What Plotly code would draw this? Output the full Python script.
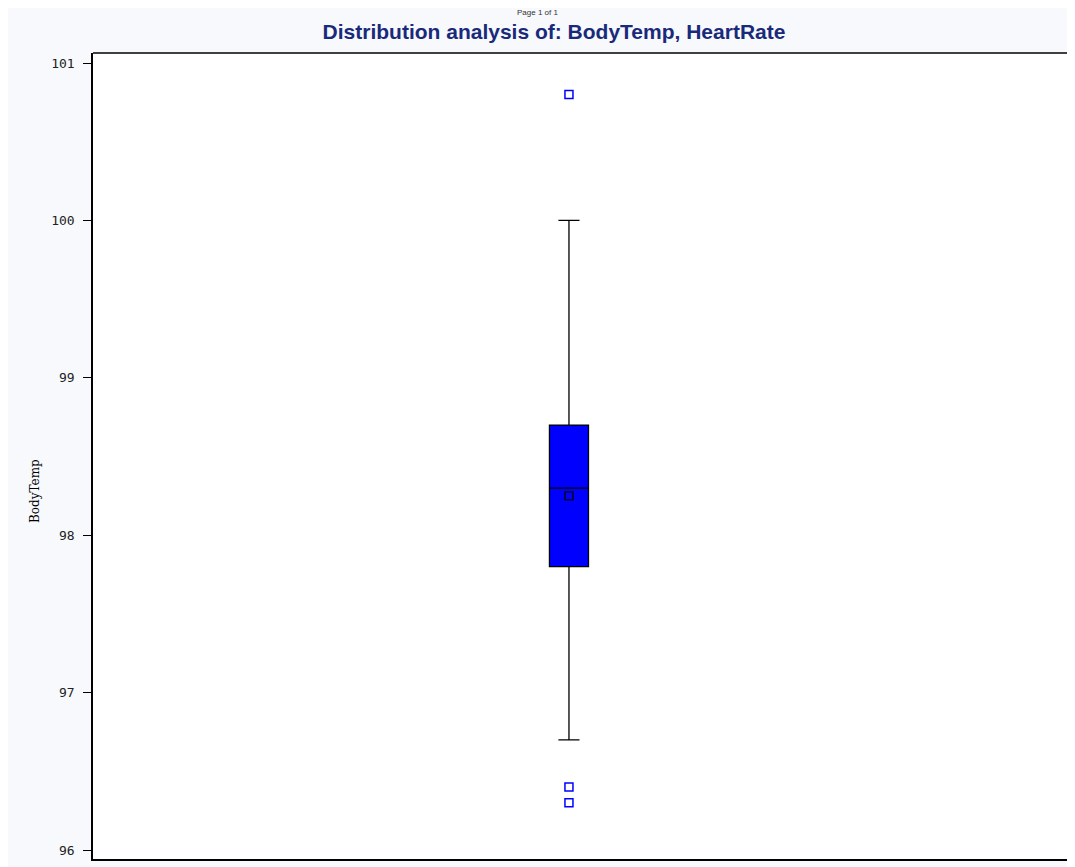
import plotly.graph_objects as go

# ---- data ----
variable = "BodyTemp"
q1 = [97.8]
median = [98.3]
q3 = [98.7]
lower_whisker = [96.7]
upper_whisker = [100.0]
mean_value = [98.25]
outliers = [100.8, 96.4, 96.3]
y_ticks = [96, 97, 98, 99, 100, 101]

fig = go.Figure()

fig.add_trace(go.Box(
    x=[0], q1=q1, median=median, q3=q3,
    lowerfence=lower_whisker, upperfence=upper_whisker,
    fillcolor="#0000FF",
    line=dict(color="black", width=1.3),
    width=0.082, whiskerwidth=0.54,
    boxpoints=False, showlegend=False, hoverinfo="y",
))

fig.add_trace(go.Scatter(
    x=[0] * len(outliers), y=outliers, mode="markers",
    marker=dict(symbol="square-open", size=8, color="#0000FF", line=dict(width=1.5)),
    showlegend=False,
))

fig.add_trace(go.Scatter(
    x=[0], y=mean_value, mode="markers",
    marker=dict(symbol="square-open", size=8, color="black", line=dict(width=1.3)),
    showlegend=False,
))

fig.update_layout(
    width=1075, height=867,
    margin=dict(l=85, r=0, t=45, b=16),
    paper_bgcolor="#F7F9FD",
    plot_bgcolor="white",
    title=dict(
        text="<b>Distribution analysis of: BodyTemp, HeartRate</b>",
        font=dict(family="Liberation Sans, Arial", size=21, color="#1a2a7a"),
        x=546 / 1075, xanchor="center", y=1 - 24 / 867, yanchor="middle",
    ),
    xaxis=dict(
        range=[-1, 1.08], showticklabels=False, ticks="", showgrid=False,
        zeroline=False, showline=True, linecolor="black", linewidth=1.5,
        mirror=False,
    ),
    yaxis=dict(
        range=[95.943, 101.064], tickvals=y_ticks, ticktext=[str(t) for t in y_ticks],
        ticks="outside", ticklen=8, tickcolor="black", tickwidth=1,
        tickfont=dict(family="DejaVu Sans Mono", size=13, color="#222222"),
        ticklabelstandoff=6,
        showgrid=False, zeroline=False, showline=True, linecolor="black",
        linewidth=1.5,
    ),
    shapes=[
        dict(type="line", xref="paper", yref="paper", x0=0, x1=1, y0=1, y1=1,
             line=dict(color="black", width=1.5)),
    ],
    annotations=[
        dict(text="Page 1 of 1", xref="paper", yref="paper", x=(529 - 85) / 990,
             y=1 + 40 / 806, yanchor="middle", showarrow=False,
             font=dict(family="Liberation Sans", size=8, color="#333333")),
        dict(text=variable, xref="paper", yref="paper", x=(27 - 85) / 990,
             y=(851 - 483) / 806, xanchor="center", yanchor="middle",
             textangle=-90, showarrow=False,
             font=dict(family="DejaVu Serif", size=12, color="black")),
    ],
)

fig.write_html("out.html")
